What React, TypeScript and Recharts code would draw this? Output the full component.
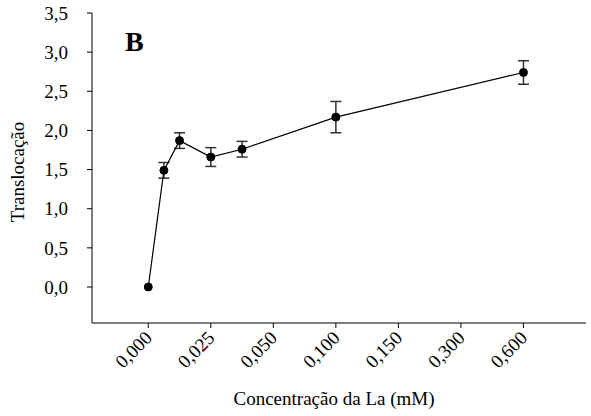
import React from 'react';
import { LineChart, Line, XAxis, YAxis, ErrorBar } from 'recharts';

// positions along the axis (category index units) and their tick labels
const xPositions = [0, 0.25, 0.5, 1, 1.5, 3, 6];
const tickLabels = ['0,000', '0,025', '0,050', '0,100', '0,150', '0,300', '0,600'];
const tickPositions = [0, 1, 2, 3, 4, 5, 6];
const translocation = [0, 1.49, 1.87, 1.66, 1.76, 2.17, 2.74];
const errors = [0, 0.1, 0.1, 0.12, 0.1, 0.2, 0.15];
const yTicks = [0, 0.5, 1, 1.5, 2, 2.5, 3, 3.5];

const data = xPositions.map((x, i) => ({ x, y: translocation[i], err: errors[i] }));

const FONT = "'Liberation Serif', 'Times New Roman', serif";
const AXIS = '#555';
const FS = 19;

const fmt = (v: number) => v.toFixed(1).replace('.', ',');

const XTick = (props: any) => {
  const { x, y, payload } = props;
  const idx = tickPositions.indexOf(payload.value);
  return (
    <g transform={`translate(${x + 5},${y + 9})`}>
      <text
        x={0}
        y={0}
        textAnchor="end"
        transform="rotate(-45)"
        style={{ fontFamily: FONT, fontSize: FS }}
        fill="#000"
      >
        {idx >= 0 ? tickLabels[idx] : ''}
      </text>
    </g>
  );
};

const YTitle = () => (
  <text
    x={24}
    y={172}
    transform="rotate(-90 24 172)"
    textAnchor="middle"
    style={{ fontFamily: FONT, fontSize: FS }}
    fill="#000"
  >
    Translocação
  </text>
);

const XTitle = () => (
  <text x={334} y={405} textAnchor="middle" style={{ fontFamily: FONT, fontSize: FS }} fill="#000">
    Concentração da La (mM)
  </text>
);

export default function App() {
  return (
    <div
      style={{
        position: 'absolute',
        left: 0,
        top: 0,
        width: 591,
        height: 416,
        background: '#fff',
        fontFamily: FONT,
      }}
    >
      <LineChart
        width={591}
        height={416}
        data={data}
        margin={{ top: 13, right: 5, bottom: 0, left: 0 }}
        style={{ fontFamily: FONT }}
      >
        <XAxis
          type="number"
          dataKey="x"
          domain={[-0.9, 7]}
          ticks={tickPositions}
          tick={<XTick />}
          tickSize={5}
          height={93}
          stroke={AXIS}
          strokeWidth={1.5}
          tickLine={{ stroke: '#000', strokeWidth: 1 }}
          allowDataOverflow
          label={<XTitle />}
        />
        <YAxis
          type="number"
          domain={[-0.46, 3.5]}
          ticks={yTicks}
          tickFormatter={fmt}
          width={92}
          tickSize={5}
          tickMargin={19}
          stroke={AXIS}
          strokeWidth={1.5}
          tickLine={{ stroke: '#000', strokeWidth: 1 }}
          tick={{ fill: '#000', style: { fontFamily: FONT, fontSize: FS } }}
          allowDataOverflow
          label={<YTitle />}
        />
        <Line
          type="linear"
          dataKey="y"
          stroke="#000"
          strokeWidth={1.2}
          dot={{ r: 4, fill: '#000', stroke: '#000', strokeWidth: 1 }}
          isAnimationActive={false}
        >
          <ErrorBar dataKey="err" direction="y" width={5.5} stroke="#333" strokeWidth={1.5} />
        </Line>
      </LineChart>
      <div
        style={{
          position: 'absolute',
          left: 125,
          top: 26,
          fontFamily: FONT,
          fontWeight: 'bold',
          fontSize: 28,
          lineHeight: '32px',
        }}
      >
        B
      </div>
    </div>
  );
}
